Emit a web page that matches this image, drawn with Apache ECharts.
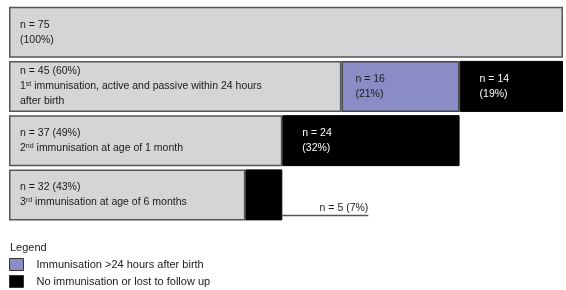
<!DOCTYPE html>
<html>
<head>
<meta charset="utf-8">
<script src="https://cdn.jsdelivr.net/npm/echarts@6/dist/echarts.min.js"></script>
<style>
html,body{margin:0;padding:0;background:#fff;}
#chart{width:566px;height:290px;}
</style>
</head>
<body>
<div id="chart"></div>
<script>
// rows (top to bottom)
var rows = ['all', 'dose1', 'dose2', 'dose3'];
// n values per segment
var onTimeN = [75, 45, 37, 32];
var lateN = [null, 16, null, null];
var noneN = [null, 14, 24, 5];
// percentages
var onTimePct = [100, 60, 49, 43];
var latePct = [null, 21, null, null];
var nonePct = [null, 19, 32, 7];
// description of each row
var ordinals = ['', '1', '2', '3'];
var sups = ['', 'st', 'nd', 'rd'];
var descs = ['', ' immunisation, active and passive within 24 hours\nafter birth', ' immunisation at age of 1 month', ' immunisation at age of 6 months'];
var legendNames = ['Immunisation >24 hours after birth', 'No immunisation or lost to follow up'];

var FONT = '"Liberation Sans Narrow", "Liberation Sans", sans-serif';

var myChart = echarts.init(document.getElementById('chart'));

var option = {
	backgroundColor: '#fff',
	animation: false,
	title: {
		text: 'Legend',
		left: 5,
		top: 237,
		textStyle: {fontFamily: FONT, fontSize: 11, fontWeight: 'normal', color: '#1a1a1a'}
	},
	legend: {
		data: legendNames,
		orient: 'vertical',
		left: 9,
		top: 258,
		icon: 'rect',
		itemWidth: 14,
		itemHeight: 12,
		itemGap: 4,
		padding: 0,
		selectedMode: false,
		itemStyle: {borderColor: '#333', borderWidth: 1},
		textStyle: {fontFamily: FONT, fontSize: 11, color: '#1a1a1a', padding: [0, 0, 0, 8]}
	},
	grid: {left: 9, right: 3, top: 5, height: 217},
	xAxis: {type: 'value', min: 0, max: 75, show: false},
	yAxis: {type: 'category', data: rows, inverse: true, show: false},
	series: [
		{
			name: 'on time',
			type: 'bar',
			stack: 'a',
			barWidth: 51,
			data: onTimeN,
			itemStyle: {color: '#d4d5d7', borderColor: '#555', borderWidth: 1.5},
			label: {
				show: true,
				position: 'insideLeft',
				distance: 11,
				fontFamily: FONT,
				fontSize: 10.5,
				lineHeight: 15,
				color: '#1a1a1a',
				formatter: function(p){
					var i = p.dataIndex;
					if(i == 0){
						return 'n = ' + onTimeN[i] + '\n(' + onTimePct[i] + '%)';
					}
					return 'n = ' + onTimeN[i] + ' (' + onTimePct[i] + '%)\n' + ordinals[i] + '{sup|' + sups[i] + '}' + descs[i];
				},
				rich: {
					sup: {fontFamily: FONT, fontSize: 7, color: '#1a1a1a', padding: [0, 0, 5, 0]}
				}
			}
		},
		{
			name: legendNames[0],
			type: 'bar',
			stack: 'a',
			barWidth: 51,
			data: lateN,
			itemStyle: {color: '#8a8dc5', borderColor: '#444', borderWidth: 1.5},
			label: {
				show: true,
				position: 'insideLeft',
				distance: 14,
				fontFamily: FONT,
				fontSize: 10.5,
				lineHeight: 15,
				color: '#1a1a1a',
				formatter: function(p){
					var i = p.dataIndex;
					return 'n = ' + lateN[i] + '\n(' + latePct[i] + '%)';
				}
			}
		},
		{
			name: legendNames[1],
			type: 'bar',
			stack: 'a',
			barWidth: 51,
			data: noneN,
			itemStyle: {color: '#000', borderColor: '#000', borderWidth: 1},
			label: {
				show: true,
				position: 'insideLeft',
				distance: 20,
				fontFamily: FONT,
				fontSize: 10.5,
				lineHeight: 15,
				color: '#fff',
				formatter: function(p){
					var i = p.dataIndex;
					return 'n = ' + noneN[i] + '\n(' + nonePct[i] + '%)';
				}
			}
		}
	]
};

// 最后一行的小柱子: 标注放在柱子外面,带下划线
var lastIdx = rows.length - 1;
option.series[2].data = noneN.map(function(v, i){
	if(i != lastIdx){
		return v;
	}
	return {
		value: v,
		label: {
			position: ['100%', '100%'],
			align: 'left',
			verticalAlign: 'bottom',
			offset: [0, -4],
			lineHeight: 12,
			formatter: '{t|n = ' + v + ' (' + nonePct[i] + '%)}\n{u|}',
			rich: {
				t: {fontFamily: FONT, fontSize: 10.5, lineHeight: 12, color: '#1a1a1a', width: 86, align: 'right', padding: [0, 2, 0, 0]},
				u: {width: 86, height: 1.5, lineHeight: 2, backgroundColor: '#555'}
			}
		}
	};
});

myChart.setOption(option);
</script>
</body>
</html>
